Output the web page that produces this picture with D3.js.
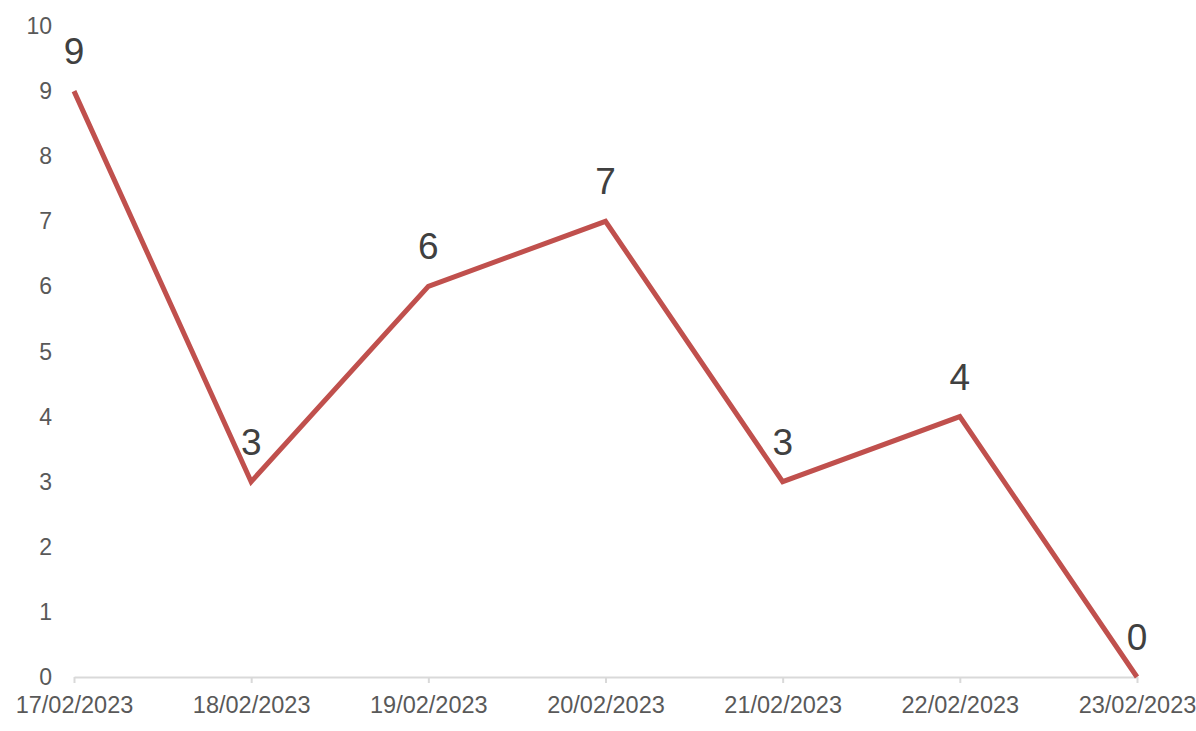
<!DOCTYPE html>
<html><head><meta charset="utf-8">
<script src="https://cdn.jsdelivr.net/npm/d3@7"></script>
<style>body{margin:0;background:#fff;} text{font-family:"Liberation Sans",Arial,sans-serif;}</style>
</head><body>
<svg id="chart" width="1196" height="731"></svg>
<script>
const categories = ["17/02/2023","18/02/2023","19/02/2023","20/02/2023","21/02/2023","22/02/2023","23/02/2023"];
const values = [9,3,6,7,3,4,0];
const yTicks = [0,1,2,3,4,5,6,7,8,9,10];

const svg = d3.select("#chart");
const x = d3.scalePoint().domain(categories).range([74,1137]);
const y = d3.scaleLinear().domain([0,10]).range([677,26]);

// y labels
svg.append("g").selectAll("text").data(yTicks).join("text")
  .attr("x",52).attr("y",d=>y(d)).attr("dy","0.35em")
  .attr("text-anchor","end").attr("font-size",23).attr("fill","#595959")
  .text(d=>d);

// x axis
const xa = svg.append("g").attr("transform","translate(0,677)")
  .call(d3.axisBottom(x).tickSizeInner(6).tickSizeOuter(0).tickPadding(13));
xa.select(".domain").attr("stroke","#d9d9d9").attr("stroke-width",2);
xa.selectAll(".tick line").attr("stroke","#d9d9d9").attr("stroke-width",2);
xa.selectAll(".tick text").attr("font-size",23.5).attr("fill","#595959")
  .attr("font-family","Liberation Sans, Arial, sans-serif");

// line
svg.append("path").datum(values)
  .attr("fill","none").attr("stroke","#c0504d").attr("stroke-width",5)
  .attr("stroke-linejoin","miter")
  .attr("d", d3.line().x((d,i)=>x(categories[i])).y(d=>y(d)));

// data labels
svg.append("g").selectAll("text").data(values).join("text")
  .attr("x",(d,i)=>x(categories[i])).attr("y",d=>y(d)-27)
  .attr("text-anchor","middle").attr("font-size",37).attr("fill","#404040")
  .text(d=>d);
</script>
</body></html>
